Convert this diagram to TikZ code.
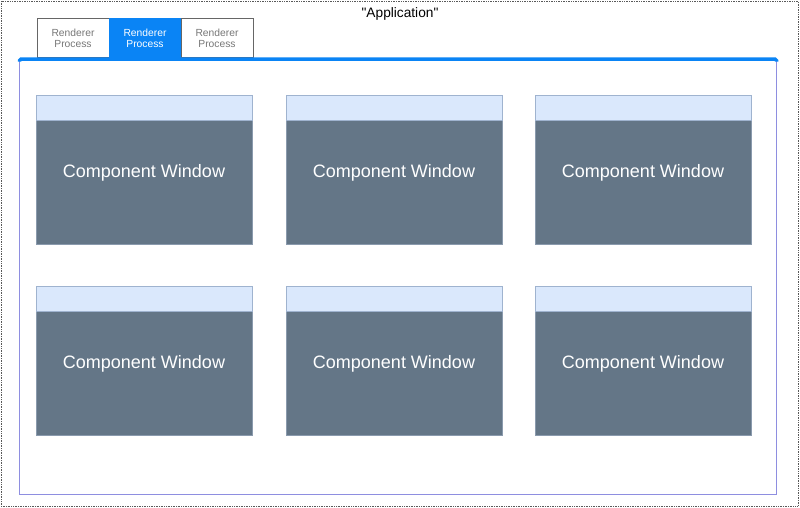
\documentclass[tikz,border=0pt]{standalone}
\usepackage{fontspec}
\setmainfont{Liberation Sans}
\newfontfamily\appfont{Liberation Sans}[Ligatures=TeXOff]
\begin{document}
\begin{tikzpicture}[x=1pt,y=-1pt,
  win/.style={draw=winborder,fill=winfill,line width=0.8pt},
  hdr/.style={draw=hdrborder,fill=hdrfill,line width=0.8pt},
  tab/.style={draw=tabborder,fill=white,line width=0.8pt},
  tabon/.style={draw=tabblue,fill=tabblue,line width=0.8pt},
  wtext/.style={text=white,font=\fontsize{18}{21}\selectfont},
  ttext/.style={text=tabtext,font=\fontsize{10.3}{11.5}\selectfont,align=center},
]
\definecolor{winfill}{HTML}{647687}
\definecolor{winborder}{HTML}{8A9AAD}
\definecolor{hdrfill}{HTML}{DAE8FC}
\definecolor{hdrborder}{HTML}{9FB3CF}
\definecolor{tabblue}{HTML}{0A84F5}
\definecolor{tabborder}{HTML}{666666}
\definecolor{tabtext}{HTML}{777777}
\definecolor{frame}{HTML}{8E8EE0}
\useasboundingbox (0,0) rectangle (800,507);
% outer dashed application border
\draw[gray!70!black,densely dotted,line width=0.7pt] (1,1) rectangle (798,506);
\node[font=\appfont\fontsize{13.7}{16}\selectfont] (app) at (400,14) {"Application"};
% tabs
\draw[tab] (37,18) rectangle (109,57);
\node[ttext] (t1) at (73,38.5) {Renderer\\Process};
\draw[tabon] (109,18) rectangle (181,57);
\node[ttext,text=white] (t2) at (145,38.5) {Renderer\\Process};
\draw[tab] (181,18) rectangle (253,57);
\node[ttext] (t3) at (217,38.5) {Renderer\\Process};
% main frame
\draw[frame,line width=0.9pt] (19.5,59) -- (19.5,494) -- (776.5,494) -- (776.5,59);
\draw[tabblue,line width=3.5pt,rounded corners=1.5pt] (19.5,61.5) -- (19.5,59) -- (776.5,59) -- (776.5,61.5);
% windows
\foreach \x [count=\i] in {36,286,535}{
  \foreach \y [count=\j] in {95,286}{
    \draw[win] (\x,\y+25) rectangle (\x+216,\y+149);
    \draw[hdr] (\x,\y) rectangle (\x+216,\y+25);
    \node[wtext] (w\i\j) at (\x+108,\y+77.5) {Component Window};
  }
}
\end{tikzpicture}
\end{document}
